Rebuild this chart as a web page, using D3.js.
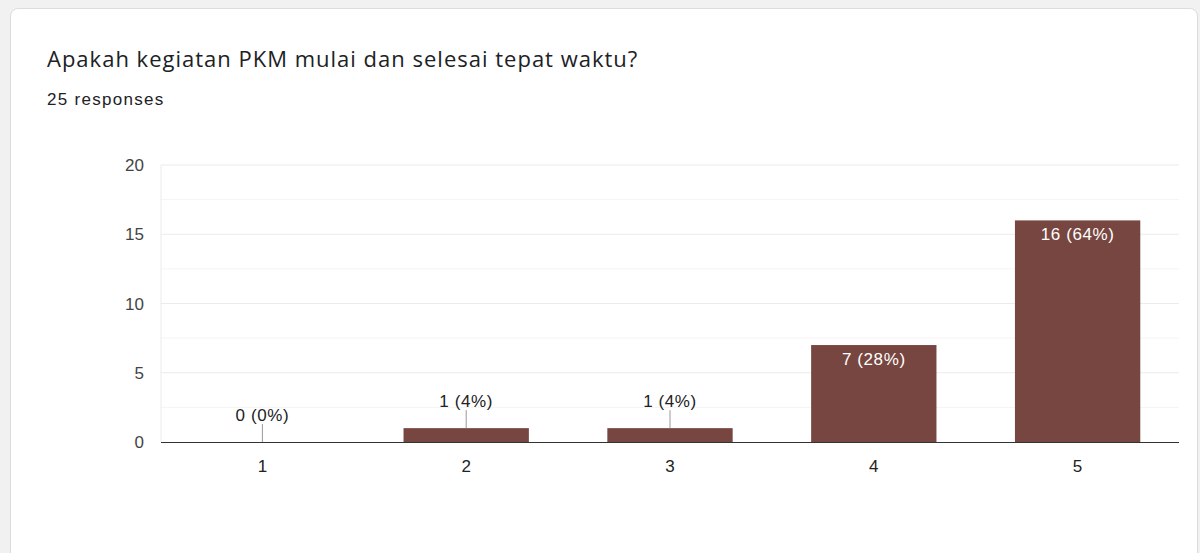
<!DOCTYPE html>
<html>
<head>
<meta charset="utf-8">
<script src="https://cdn.jsdelivr.net/npm/d3@7"></script>
<style>
body { margin: 0; background: #f1f1f1; width: 1200px; height: 553px; overflow: hidden; }
#card { position: absolute; left: 10px; top: 8px; width: 1186px; height: 560px; background: #fff;
  border: 1px solid #dadce0; border-radius: 8px; }
svg { position: absolute; left: 0; top: 0; }
</style>
</head>
<body>
<div id="card"></div>
<svg id="chart" width="1200" height="553"></svg>
<script>
var categories = ["1", "2", "3", "4", "5"];
var counts = [0, 1, 1, 7, 16];
var percents = ["0%", "4%", "4%", "28%", "64%"];
var yTicks = [0, 5, 10, 15, 20];
var yMinor = [2.5, 7.5, 12.5, 17.5];

var margin = { top: 165, left: 161, right: 21, bottom: 111 },
    width = 1200 - margin.left - margin.right,
    height = 553 - margin.top - margin.bottom,
    barColor = "#774640",
    font = "'Liberation Sans', Arial, sans-serif";

var root = d3.select("#chart");

root.append("text").text("Apakah kegiatan PKM mulai dan selesai tepat waktu?")
    .attr("x", 47).attr("y", 67)
    .style("font-family", "'Open Sans', Roboto, sans-serif").style("font-size", "22px")
    .style("letter-spacing", "1px")
    .style("fill", "#202124");

root.append("text").text("25 responses")
    .attr("x", 47).attr("y", 105)
    .style("font-family", font).style("font-size", "17px").style("letter-spacing", "1.3px")
    .style("fill", "#202124");

var svg = root.append("g")
    .attr("transform", "translate(" + margin.left + "," + margin.top + ")");

var x = d3.scaleBand().domain(categories).range([0, width]).paddingInner(0.385).paddingOuter(0.19);
var y = d3.scaleLinear().domain([0, 20]).range([height, 0]);

// minor grid
svg.selectAll(".minor").data(yMinor).enter().append("line")
    .attr("x1", 0).attr("x2", width)
    .attr("y1", function (d) { return y(d); }).attr("y2", function (d) { return y(d); })
    .attr("stroke", "#f4f4f4").attr("stroke-width", 1);

// major grid
svg.selectAll(".major").data(yTicks.slice(1)).enter().append("line")
    .attr("x1", 0).attr("x2", width)
    .attr("y1", function (d) { return y(d); }).attr("y2", function (d) { return y(d); })
    .attr("stroke", "#ebebeb").attr("stroke-width", 1);

svg.append("line").attr("x1", 0).attr("x2", 0).attr("y1", 0).attr("y2", height)
    .attr("stroke", "#ebebeb");

// y labels
svg.selectAll(".yLabel").data(yTicks).enter().append("text")
    .text(function (d) { return d; })
    .attr("x", -17).attr("y", function (d) { return y(d) + 6; })
    .style("text-anchor", "end")
    .style("font-family", font).style("font-size", "17px").style("fill", "#444");

// bars
svg.selectAll(".bar").data(counts).enter().append("rect")
    .attr("x", function (d, i) { return x(categories[i]); })
    .attr("y", function (d) { return y(d); })
    .attr("width", x.bandwidth())
    .attr("height", function (d) { return height - y(d); })
    .style("fill", barColor);

// baseline
svg.append("line").attr("x1", 0).attr("x2", width).attr("y1", height + 0.5).attr("y2", height + 0.5)
    .attr("stroke", "#333").attr("stroke-width", 1);

// x labels
svg.selectAll(".xLabel").data(categories).enter().append("text")
    .text(function (d) { return d; })
    .attr("x", function (d) { return x(d) + x.bandwidth() / 2; })
    .attr("y", height + 30)
    .style("text-anchor", "middle")
    .style("font-family", font).style("font-size", "17px").style("fill", "#222");

// value labels
counts.forEach(function (d, i) {
    var cx = x(categories[i]) + x.bandwidth() / 2;
    var label = d + " (" + percents[i] + ")";
    if (height - y(d) > 30) {
        svg.append("text").text(label)
            .attr("x", cx).attr("y", y(d) + 20)
            .style("text-anchor", "middle").style("letter-spacing", "0.6px")
            .style("font-family", font).style("font-size", "17px").style("fill", "#fff");
    } else {
        svg.append("line")
            .attr("x1", cx).attr("x2", cx)
            .attr("y1", y(d) - 18).attr("y2", y(d))
            .attr("stroke", "#999").attr("stroke-width", 1);
        svg.append("text").text(label)
            .attr("x", cx).attr("y", y(d) - 21)
            .style("text-anchor", "middle").style("letter-spacing", "0.6px")
            .style("font-family", font).style("font-size", "17px").style("fill", "#222");
    }
});
</script>
</body>
</html>
